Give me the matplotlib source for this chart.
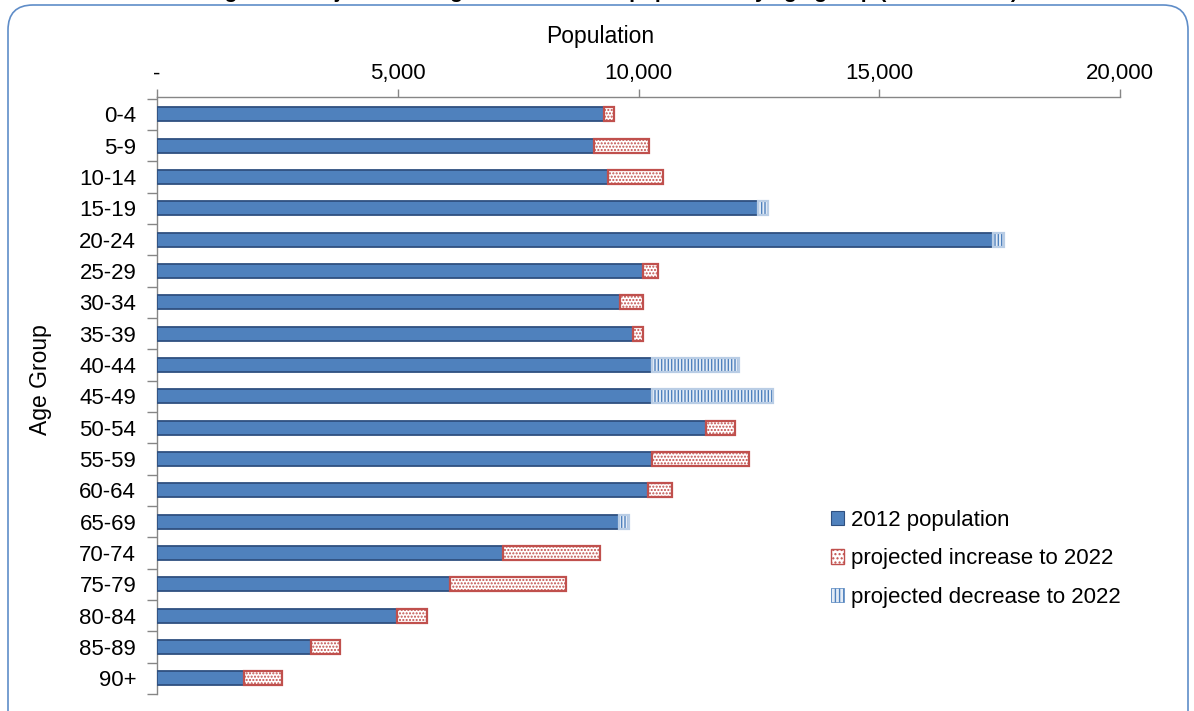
import matplotlib.pyplot as plt
from matplotlib.patches import Patch, FancyBboxPatch
from matplotlib.transforms import IdentityTransform
from matplotlib.ticker import FuncFormatter

plt.rcParams['font.family'] = ['Liberation Sans', 'DejaVu Sans']
plt.rcParams['hatch.linewidth'] = 1.0

# 2012 population and projected change to 2022 by age group
age_groups = ['0-4', '5-9', '10-14', '15-19', '20-24', '25-29', '30-34', '35-39',
              '40-44', '45-49', '50-54', '55-59', '60-64', '65-69', '70-74',
              '75-79', '80-84', '85-89', '90+']
pop_2012 = [9280, 9080, 9370, 12480, 17360, 10090, 9620, 9890, 10280, 10280,
            11400, 10280, 10200, 9600, 7190, 6090, 4990, 3200, 1810]
increase = [210, 1140, 1140, 0, 0, 310, 480, 200, 0, 0,
            600, 2010, 500, 0, 2010, 2410, 620, 600, 790]
decrease = [0, 0, 0, 210, 230, 0, 0, 0, 1810, 2510,
            0, 0, 0, 210, 0, 0, 0, 0, 0]

title = 'Figure 5: Projected change in the resident population by age group (2012 to 2022)'

blue = '#4f81bd'
blue_edge = '#2f5080'
red = '#c0504d'
light_blue = '#b9cde5'
grey = '#868686'

fig = plt.figure(figsize=(11.94, 7.11), dpi=100)
ax = fig.add_axes([157 / 1194, 1 - 694 / 711, (1120 - 157) / 1194, (694 - 97) / 711])

y = list(range(len(age_groups)))
h = 0.45

ax.barh(y, pop_2012, height=h, color=blue, edgecolor=blue_edge, linewidth=1.3, zorder=3)

# hatched layer first, then the outline on top of it
inc_rows = [i for i in y if increase[i] > 0]
ax.barh(inc_rows, [increase[i] for i in inc_rows], left=[pop_2012[i] for i in inc_rows],
        height=h, color='white', edgecolor=red, hatch='.....', linewidth=0, zorder=3)
ax.barh(inc_rows, [increase[i] for i in inc_rows], left=[pop_2012[i] for i in inc_rows],
        height=h, fill=False, edgecolor=red, linewidth=1.6, zorder=4)

dec_rows = [i for i in y if decrease[i] > 0]
ax.barh(dec_rows, [decrease[i] for i in dec_rows], left=[pop_2012[i] for i in dec_rows],
        height=h, color='#e4ecf6', edgecolor=blue, hatch='|||||', linewidth=0, zorder=3)
ax.barh(dec_rows, [decrease[i] for i in dec_rows], left=[pop_2012[i] for i in dec_rows],
        height=h, fill=False, edgecolor=light_blue, linewidth=1.6, zorder=4)

ax.set_ylim(len(age_groups) - 0.5, -0.55)
ax.set_xlim(0, 20000)

ax.xaxis.tick_top()
ax.set_xticks([0, 5000, 10000, 15000, 20000])
ax.xaxis.set_major_formatter(FuncFormatter(lambda v, p: '-' if v == 0 else f'{int(v):,}'))
ax.tick_params(axis='x', direction='out', length=6, color=grey, width=1,
               labelsize=16, pad=3)

ax.set_yticks(y)
ax.set_yticklabels(age_groups)
ax.set_yticks([i - 0.5 for i in range(len(age_groups) + 1)], minor=True)
ax.tick_params(axis='y', which='major', length=0, labelsize=16, pad=15)
ax.tick_params(axis='y', which='minor', length=7, color=grey, width=1)

for s in ['right', 'bottom']:
    ax.spines[s].set_visible(False)
for s in ['top', 'left']:
    ax.spines[s].set_color(grey)
    ax.spines[s].set_linewidth(1)

fig.text(600 / 1194, 1 - 36 / 711, 'Population', ha='center', va='center', fontsize=16.5)
fig.text(40 / 1194, 1 - 380 / 711, 'Age Group', ha='center', va='center',
         rotation=90, fontsize=16.5)

handles = [
    Patch(facecolor=blue, edgecolor=blue_edge, linewidth=0.8, label='2012 population'),
    Patch(facecolor='white', edgecolor=red, hatch='....', linewidth=1.0,
          label='projected increase to 2022'),
    Patch(facecolor='#e4ecf6', edgecolor=blue, hatch='||||', linewidth=0.5,
          label='projected decrease to 2022'),
]
fig.legend(handles=handles, loc='upper left', bbox_to_anchor=(831 / 1194, 1 - 510 / 711),
           frameon=False, fontsize=16, handlelength=0.6, handleheight=0.6,
           handletextpad=0.3, labelspacing=0.78, borderpad=0, borderaxespad=0)

# rounded chart frame
frame = FancyBboxPatch((8, -40), 1180, 746, boxstyle='round,pad=0,rounding_size=25',
                       transform=IdentityTransform(), fill=False, edgecolor='#5f8dc8',
                       linewidth=1.2, zorder=0)
fig.patches.append(frame)

# heading sits mostly above the top edge of the figure
fig.text(612 / 1194, 1 + 2.5 / 711, title, ha='center', va='baseline',
         fontsize=15, fontweight='bold')

fig.savefig('out.png', dpi=100)
